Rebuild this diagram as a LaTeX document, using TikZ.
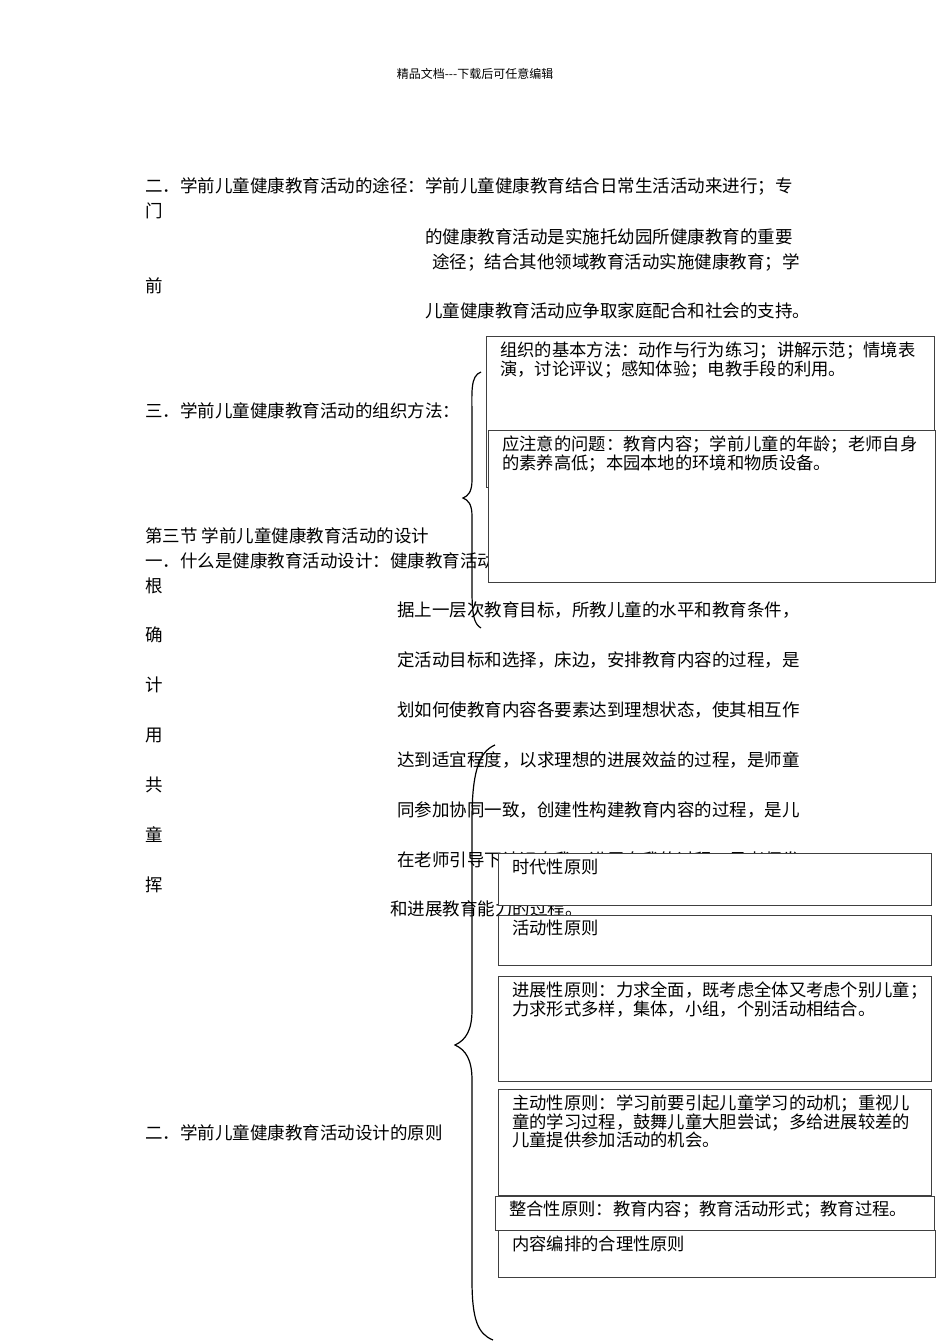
\documentclass[tikz,border=0pt]{standalone}
\usepackage{fontspec}
\setmainfont{Noto Sans CJK SC}
\begin{document}
\begin{tikzpicture}[x=1pt,y=-1pt,
 txt/.style={anchor=west,inner sep=0pt,font=\fontsize{17.5}{18}\selectfont},
 bx/.style={draw=black!75,line width=1pt,fill=white},
 bt/.style={anchor=north west,inner sep=0pt,align=left,font=\fontsize{17.3}{16.5}\selectfont},
 brace/.style={draw,line width=1.2pt}]
\useasboundingbox (0,0) rectangle (950,1344);
\node[inner sep=0pt,font=\fontsize{12}{12}\selectfont] (hd) at (475,74) {精品文档{-}{-}{-}下载后可任意编辑};
\node[txt] (a1) at (145,186) {二．学前儿童健康教育活动的途径：学前儿童健康教育结合日常生活活动来进行；专};
\node[txt] (a2) at (145,211) {门};
\node[txt] (a3) at (425,237) {的健康教育活动是实施托幼园所健康教育的重要};
\node[txt] (a4) at (432,262) {途径；结合其他领域教育活动实施健康教育；学};
\node[txt] (a5) at (145,286) {前};
\node[txt] (a6) at (425,311) {儿童健康教育活动应争取家庭配合和社会的支持。};
\node[txt] (b1) at (145,411) {三．学前儿童健康教育活动的组织方法：};
\node[txt] (c0) at (145,536) {第三节\ 学前儿童健康教育活动的设计};
\node[txt] (c1) at (145,561) {一．什么是健康教育活动设计：健康教育活动设计是};
\node[txt] (c2) at (145,586) {根};
\node[txt] (c3) at (397,610) {据上一层次教育目标，所教儿童的水平和教育条件，};
\node[txt] (c4) at (145,635) {确};
\node[txt] (c5) at (397,660) {定活动目标和选择，床边，安排教育内容的过程，是};
\node[txt] (c6) at (145,685) {计};
\node[txt] (c7) at (397,710) {划如何使教育内容各要素达到理想状态，使其相互作};
\node[txt] (c8) at (145,735) {用};
\node[txt] (c9) at (397,760) {达到适宜程度，以求理想的进展效益的过程，是师童};
\node[txt] (c10) at (145,785) {共};
\node[txt] (c11) at (397,810) {同参加协同一致，创建性构建教育内容的过程，是儿};
\node[txt] (c12) at (145,835) {童};
\node[txt] (c13) at (397,860) {在老师引导下认识自我，进展自我的过程，是老师发};
\node[txt] (c14) at (145,885) {挥};
\node[txt] (c15) at (390,909) {和进展教育能力的过程。};
\node[txt] (d1) at (145,1133) {二．学前儿童健康教育活动设计的原则};
% boxes upper
\draw[bx] (486,336) rectangle (934,487);
\node[bt] (t1) at (500,342) {组织的基本方法：动作与行为练习；讲解示范；情境表\\演，讨论评议；感知体验；电教手段的利用。};
\draw[bx] (488,430) rectangle (935,582);
\node[bt] (t2) at (502,436) {应注意的问题：教育内容；学前儿童的年龄；老师自身\\的素养高低；本园本地的环境和物质设备。};
\draw[brace] (481,372) .. controls (470,376) and (472,392) .. (472,420) -- (472,480) .. controls (472,492) and (468,496) .. (463,498) .. controls (468,500) and (472,504) .. (472,516) -- (472,590) .. controls (472,615) and (474,624) .. (481,628);
% boxes lower
\draw[bx] (498,853) rectangle (931,905);
\node[bt] (p1) at (512,859) {时代性原则};
\draw[bx] (498,915) rectangle (931,965);
\node[bt] (p2) at (512,920) {活动性原则};
\draw[bx] (498,976) rectangle (931,1081);
\node[bt] (p3) at (512,982) {进展性原则：力求全面，既考虑全体又考虑个别儿童；\\力求形式多样，集体，小组，个别活动相结合。};
\draw[bx] (498,1089) rectangle (931,1195);
\node[bt] (p4) at (512,1095) {主动性原则：学习前要引起儿童学习的动机；重视儿\\童的学习过程，鼓舞儿童大胆尝试；多给进展较差的\\儿童提供参加活动的机会。};
\draw[bx] (495,1196) rectangle (934,1230);
\node[bt] (p5) at (509,1201) {整合性原则：教育内容；教育活动形式；教育过程。};
\draw[bx] (498,1230) rectangle (935,1277);
\node[bt] (p6) at (512,1236) {内容编排的合理性原则};
\draw[brace] (495,745) .. controls (478,752) and (472,775) .. (472,820) -- (472,1010) .. controls (472,1030) and (466,1040) .. (455,1045) .. controls (466,1050) and (472,1060) .. (472,1080) -- (472,1280) .. controls (472,1320) and (478,1334) .. (493,1340);
\end{tikzpicture}
\end{document}
